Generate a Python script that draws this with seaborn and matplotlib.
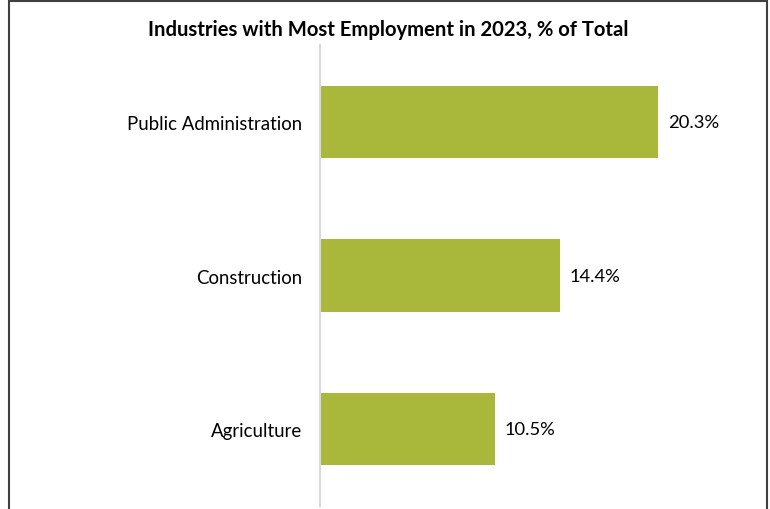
import matplotlib
matplotlib.use("Agg")
import matplotlib.pyplot as plt
import seaborn as sns
import pandas as pd
from matplotlib.patches import Rectangle

categories = ["Public Administration", "Construction", "Agriculture"]
values = [20.3, 14.4, 10.5]
value_labels = ["20.3%", "14.4%", "10.5%"]
title = "Industries with Most Employment in 2023, % of Total"

sns.set_theme(style="white")
plt.rcParams['font.family'] = ['Lato', 'DejaVu Sans']

df = pd.DataFrame({"industry": categories, "share": values})

fig = plt.figure(figsize=(7.7, 5.1), dpi=100)
ax = fig.add_axes([320/770, 3/510, (740-320)/770, (507-46)/510])
sns.barplot(data=df, x="share", y="industry", color="#A9B83B", saturation=1,
            width=0.47, ax=ax, orient="h", linewidth=0)
ax.set_xlim(0, 25.2)
ax.set_ylim(2.5, -0.5)
ax.set_xlabel("")
ax.set_ylabel("")
ax.set_xticks([])
for s in ["top", "right", "bottom"]:
    ax.spines[s].set_visible(False)
ax.spines["left"].set_color("#D9D9D9")
ax.spines["left"].set_linewidth(1.5)
ax.tick_params(axis="y", length=0, pad=13, labelsize=13.4, labelcolor="#000000")

for p, lab in zip(ax.patches, value_labels):
    ax.annotate(lab, (p.get_width(), p.get_y() + p.get_height()/2),
                xytext=(7, 0), textcoords="offset points",
                va="center", ha="left", fontsize=13.2, color="#000000")

fig.text(388/770, 1 - 30/510, title, ha="center", va="center",
         fontsize=14.6, fontweight="bold", color="#000000")

fig.patches.append(Rectangle((9/770, -0.05), (767-9)/770, (508/510) + 0.05,
                             transform=fig.transFigure, fill=False,
                             edgecolor="#404040", linewidth=1.5))

fig.savefig("out.png", dpi=100)
